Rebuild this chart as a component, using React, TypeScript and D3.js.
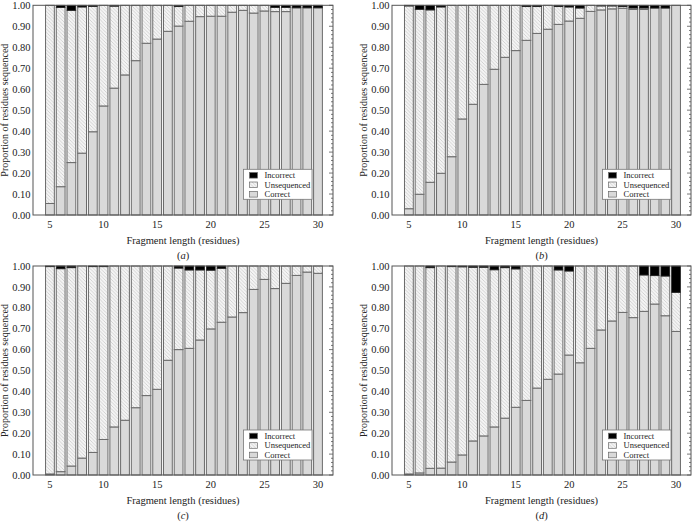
import React from "react";
import * as d3 from "d3";

const lengths = [5, 6, 7, 8, 9, 10, 11, 12, 13, 14, 15, 16, 17, 18, 19, 20, 21, 22, 23, 24, 25, 26, 27, 28, 29, 30];
const xTicks = [5, 10, 15, 20, 25, 30];
const yTicks = [0, 0.1, 0.2, 0.3, 0.4, 0.5, 0.6, 0.7, 0.8, 0.9, 1.0];
const panelLabels = ["a", "b", "c", "d"];
const seriesNames = ["Incorrect", "Unsequenced", "Correct"];

const correctA = [0.055, 0.135, 0.25, 0.295, 0.397, 0.52, 0.605, 0.668, 0.736, 0.819, 0.839, 0.876, 0.901, 0.924, 0.946, 0.948, 0.948, 0.967, 0.976, 0.963, 0.973, 0.97, 0.97, 0.988, 0.988, 0.988];
const unseqA = [0.945, 0.855, 0.726, 0.697, 0.598, 0.48, 0.391, 0.332, 0.264, 0.181, 0.161, 0.124, 0.093, 0.076, 0.054, 0.052, 0.052, 0.033, 0.024, 0.037, 0.027, 0.02, 0.02, 0, 0, 0];
const incorrectA = [0, 0.01, 0.024, 0.008, 0.005, 0, 0.004, 0, 0, 0, 0, 0, 0.006, 0, 0, 0, 0, 0, 0, 0, 0, 0.01, 0.01, 0.012, 0.012, 0.012];

const correctB = [0.03, 0.099, 0.156, 0.199, 0.278, 0.458, 0.528, 0.623, 0.695, 0.752, 0.784, 0.833, 0.866, 0.886, 0.909, 0.925, 0.938, 0.971, 0.978, 0.983, 0.986, 0.98, 0.98, 0.987, 0.987, 1.0];
const unseqB = [0.967, 0.882, 0.822, 0.793, 0.722, 0.542, 0.472, 0.377, 0.305, 0.248, 0.216, 0.161, 0.128, 0.114, 0.085, 0.067, 0.049, 0.029, 0.019, 0.014, 0.008, 0.007, 0.007, 0, 0, 0];
const incorrectB = [0.003, 0.019, 0.022, 0.008, 0, 0, 0, 0, 0, 0, 0, 0.006, 0.006, 0, 0.006, 0.008, 0.013, 0, 0.003, 0.003, 0.006, 0.013, 0.013, 0.013, 0.013, 0];

const correctC = [0.005, 0.016, 0.043, 0.081, 0.108, 0.17, 0.23, 0.262, 0.322, 0.38, 0.41, 0.549, 0.6, 0.606, 0.646, 0.699, 0.731, 0.756, 0.777, 0.888, 0.936, 0.892, 0.917, 0.955, 0.971, 0.965];
const unseqC = [0.992, 0.971, 0.949, 0.919, 0.889, 0.827, 0.77, 0.738, 0.678, 0.62, 0.59, 0.451, 0.39, 0.375, 0.335, 0.281, 0.258, 0.244, 0.223, 0.112, 0.064, 0.108, 0.083, 0.045, 0.029, 0.035];
const incorrectC = [0.003, 0.013, 0.008, 0, 0.003, 0.003, 0, 0, 0, 0, 0, 0, 0.01, 0.019, 0.019, 0.02, 0.011, 0, 0, 0, 0, 0, 0, 0, 0, 0];

const correctD = [0.005, 0.01, 0.032, 0.033, 0.062, 0.096, 0.163, 0.187, 0.23, 0.272, 0.324, 0.357, 0.416, 0.458, 0.483, 0.574, 0.537, 0.606, 0.694, 0.737, 0.778, 0.753, 0.783, 0.818, 0.762, 0.687];
const unseqD = [0.995, 0.99, 0.96, 0.967, 0.935, 0.9, 0.831, 0.807, 0.752, 0.72, 0.662, 0.643, 0.584, 0.542, 0.498, 0.402, 0.463, 0.394, 0.306, 0.263, 0.222, 0.247, 0.174, 0.136, 0.19, 0.187];
const incorrectD = [0, 0, 0.008, 0, 0.003, 0.004, 0.006, 0.006, 0.018, 0.008, 0.014, 0, 0, 0, 0.019, 0.024, 0, 0, 0, 0, 0, 0, 0.043, 0.046, 0.048, 0.126];

const panelData = [
  { correct: correctA, unseq: unseqA, incorrect: incorrectA },
  { correct: correctB, unseq: unseqB, incorrect: incorrectB },
  { correct: correctC, unseq: unseqC, incorrect: incorrectC },
  { correct: correctD, unseq: unseqD, incorrect: incorrectD },
];

const FONT = "'Liberation Serif', 'DejaVu Serif', serif";
const GRAY = "#d9d9d9";
const EDGE = "#6a6a6a";
const FRAME = "#555";
const TEXT = "#222";

function Panel({ idx, left, top, right, bottom }: { idx: number; left: number; top: number; right: number; bottom: number }) {
  const d = panelData[idx];
  const x = d3.scaleLinear().domain([3.42, 31.4]).range([left, right]);
  const y = d3.scaleLinear().domain([0, 1]).range([bottom, top]);
  const bw = 8.8;
  const minor = d3.range(0, 1.0001, 0.02);
  const cx = (left + right) / 2;
  const cy = (top + bottom) / 2;
  const lx = left + 210.5;
  const ly = top + 164;
  const legendFills = ["#000", "url(#hatch)", GRAY];
  return (
    <g>
      {lengths.map((L, i) => {
        const c = d.correct[i];
        const u = d.unseq[i];
        const inc = d.incorrect[i];
        const bx = x(L) - bw / 2;
        return (
          <g key={L}>
            <rect x={bx} y={y(c)} width={bw} height={y(0) - y(c)} fill={GRAY} stroke={EDGE} strokeWidth={1} />
            {u > 0 && (
              <rect x={bx} y={y(c + u)} width={bw} height={y(c) - y(c + u)} fill="url(#hatch)" stroke={EDGE} strokeWidth={1} />
            )}
            {inc > 0 && (
              <rect x={bx} y={y(1)} width={bw} height={y(1 - inc) - y(1)} fill="#000" stroke="#222" strokeWidth={0.8} />
            )}
          </g>
        );
      })}
      <rect x={left} y={top} width={right - left} height={bottom - top} fill="none" stroke={FRAME} strokeWidth={1} />
      {minor.map((v, k) => {
        const major = k % 5 === 0;
        return <line key={k} x1={right} x2={right - (major ? 4 : 2)} y1={y(v)} y2={y(v)} stroke={FRAME} strokeWidth={0.8} />;
      })}
      {yTicks.map((v) => (
        <text key={v} x={left - 2.5} y={y(v) + 3.6} textAnchor="end" fontSize={10.5} fontFamily={FONT} fill={TEXT}>
          {v.toFixed(2)}
        </text>
      ))}
      {xTicks.map((v) => (
        <text key={v} x={x(v)} y={bottom + 12.8} textAnchor="middle" fontSize={10.5} fontFamily={FONT} fill={TEXT}>
          {v}
        </text>
      ))}
      <text x={cx} y={bottom + 28.5} textAnchor="middle" fontSize={10.5} fontFamily={FONT} fill={TEXT}>
        Fragment length (residues)
      </text>
      <text x={cx} y={bottom + 44} textAnchor="middle" fontSize={10.5} fontFamily={FONT} fill={TEXT}>
        (<tspan fontStyle="italic">{panelLabels[idx]}</tspan>)
      </text>
      <text
        transform={`translate(${left - 25},${cy}) rotate(-90)`}
        textAnchor="middle"
        fontSize={10}
        fontFamily={FONT}
        fill={TEXT}
      >
        Proportion of residues sequenced
      </text>
      <g>
        <rect x={lx} y={ly} width={68.5} height={30} fill="#fff" stroke="#777" strokeWidth={0.8} />
        {seriesNames.map((name, k) => {
          const ry = ly + 6 + k * 9.5;
          return (
            <g key={name}>
              <rect x={lx + 6} y={ry - 2.8} width={8} height={5.6} fill={legendFills[k]} stroke={EDGE} strokeWidth={0.7} />
              <text x={lx + 21} y={ry + 2.9} fontSize={8.5} fontFamily={FONT} fill={TEXT}>
                {name}
              </text>
            </g>
          );
        })}
      </g>
    </g>
  );
}

export default function App() {
  return (
    <svg width={693} height={523} style={{ position: "absolute", left: 0, top: 0, background: "#fff" }}>
      <defs>
        <pattern id="hatch" patternUnits="userSpaceOnUse" width={3.5} height={3.5}>
          <rect width={3.5} height={3.5} fill="#f4f4f4" />
          <path d="M0,0 L3.5,3.5 M-1,2.5 L1,4.5 M2.5,-1 L4.5,1" stroke="#c4c4c4" strokeWidth={0.7} />
        </pattern>
      </defs>
      <rect width={693} height={523} fill="#fff" />
      <Panel idx={0} left={33} top={5.3} right={333} bottom={215} />
      <Panel idx={1} left={392} top={5.3} right={691} bottom={215} />
      <Panel idx={2} left={33} top={266} right={333} bottom={475} />
      <Panel idx={3} left={392} top={266} right={691} bottom={475} />
    </svg>
  );
}
